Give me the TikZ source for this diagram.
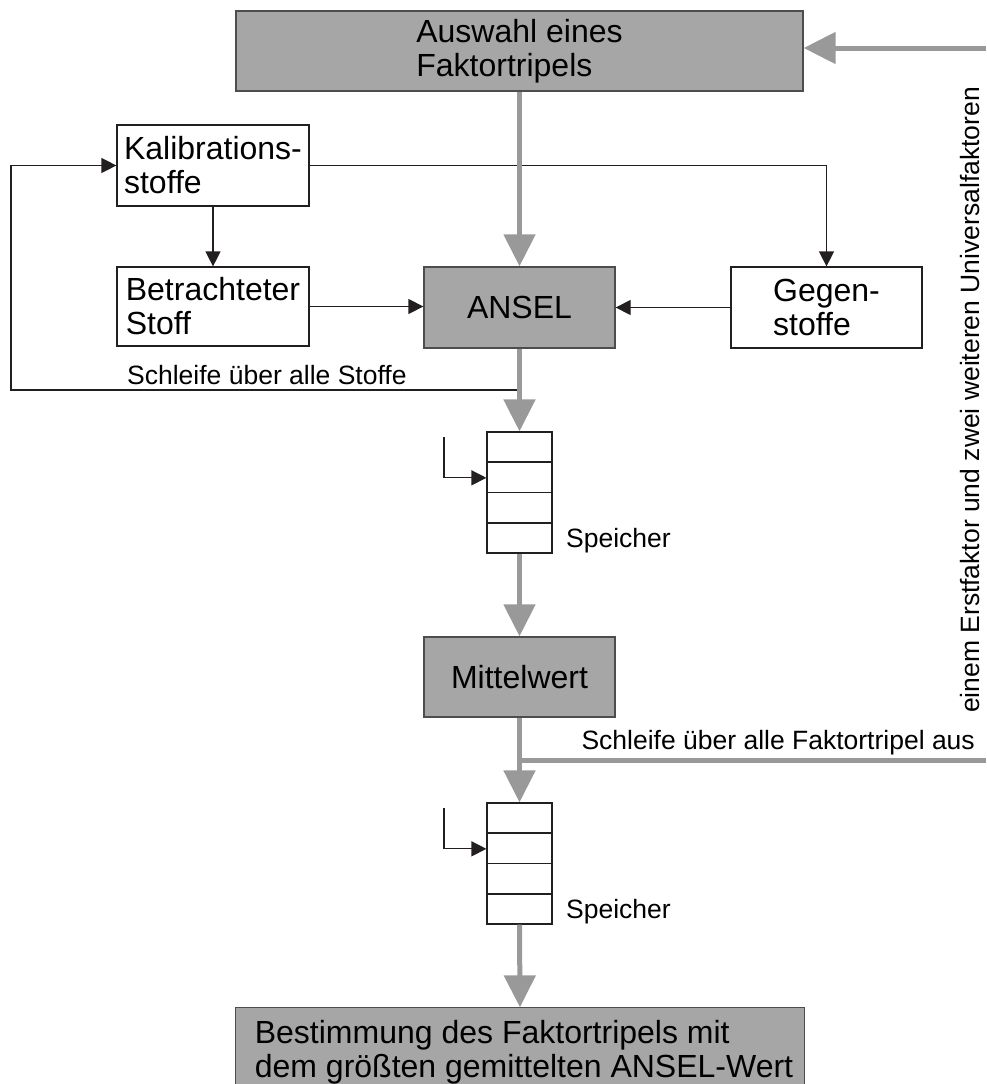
\documentclass[tikz,border=0pt]{standalone}
\usepackage{fontspec}
\setmainfont{Liberation Sans}
\usetikzlibrary{arrows.meta,calc}
\definecolor{boxgray}{HTML}{A6A6A6}
\definecolor{arrowgray}{HTML}{999999}
\definecolor{edgegray}{HTML}{4D4D4D}
\definecolor{inkblack}{HTML}{231F20}
\newcommand\bxfont{\fontsize{32}{34}\selectfont}
\newcommand\lbfont{\fontsize{26.5}{30}\selectfont}
\begin{document}
\begin{tikzpicture}[x=1pt,y=-1pt,
 graybox/.style={draw=edgegray, line width=1.3pt, fill=boxgray, inner sep=0pt, align=left, font=\bxfont},
 whitebox/.style={draw=inkblack, line width=1.2pt, fill=white, inner sep=0pt, align=left, font=\bxfont},
 membox/.style={draw=inkblack, line width=1.2pt, minimum width=65pt, minimum height=121pt, inner sep=0pt},
 flow/.style={draw=arrowgray, line width=5pt, -{Triangle[length=32pt,width=31pt]}},
 flowline/.style={draw=arrowgray, line width=5pt},
 link/.style={draw=inkblack, line width=1.3pt, -{Triangle[length=15pt,width=15pt]}},
 linkline/.style={draw=inkblack, line width=1.2pt},
 lbl/.style={inner sep=0pt, font=\lbfont}]
\useasboundingbox (0,0) rectangle (986,1084);

% boxes
\node[graybox, minimum width=567pt, minimum height=80pt] (top) at (519.5,51) {Auswahl eines\\Faktortripels};
\node[whitebox, minimum width=192pt, minimum height=81pt] (kal) at (213,165.5) {Kalibrations-\\stoffe};
\node[whitebox, minimum width=192pt, minimum height=79pt] (bet) at (213,306.5) {Betrachteter\\Stoff};
\node[graybox, minimum width=191pt, minimum height=81pt] (ansel) at (519.5,307.5) {ANSEL};
\node[whitebox, minimum width=191pt, minimum height=81pt] (geg) at (826.5,307.5) {Gegen-\\stoffe};
\node[membox] (mem1) at (519.5,492.5) {};
\node[graybox, minimum width=191pt, minimum height=80pt] (mittel) at (519.5,677) {Mittelwert};
\node[membox] (mem2) at (519.5,863.5) {};
\node[graybox, draw=none, minimum width=568pt, minimum height=76pt] (best) at (520,1046) {};
\draw[draw=edgegray, line width=1.3pt] (best.south west) -- (best.north west) -- (best.north east) -- (best.south east);
\node[font=\bxfont, align=left, inner sep=0pt] (besttext) at (524,1052) {Bestimmung des Faktortripels mit\\dem größten gemittelten ANSEL-Wert};

% memory cells
\foreach \m in {mem1,mem2}{
  \foreach \f in {0.25,0.5,0.75}{
    \draw[linkline] ($(\m.north west)!\f!(\m.south west)$) -- ($(\m.north east)!\f!(\m.south east)$);
  }
}

% black connectors
\draw[link] (kal.south) -- (bet.north);
\draw[link] (kal.east) -| (geg.north);
\draw[link] (bet.east) -- (bet.east -| ansel.west);
\draw[link] (geg.west) -- (ansel.east);
\coordinate (j1) at (517.5,390);
\coordinate (lc) at (11,390);
\draw[link] (j1) -- (lc) |- (kal.west);
\coordinate (m1s) at (444,437);
\draw[link] (m1s) |- ($(mem1.north west)!0.38!(mem1.south west)$);
\coordinate (m2s) at (444,808);
\draw[link] (m2s) |- ($(mem2.north west)!0.38!(mem2.south west)$);

% gray flows
\draw[flow] (top.south) -- (ansel.north);
\draw[flow] (ansel.south) -- (mem1.north);
\draw[flow] (mem1.south) -- (mittel.north);
\draw[flow] (mittel.south) -- (mem2.north);
\draw[flow] (mem2.south) -- (best.north);
\coordinate (rin) at (986,48);
\draw[flow] (rin) -- (rin -| top.east);
\coordinate (j2) at (519.5,760);
\coordinate (rout) at (986,760);
\draw[flowline] (j2) -- (rout);

% labels
\node[lbl, anchor=base west] (l1) at (127,384) {Schleife über alle Stoffe};
\node[lbl, anchor=base west] (sp1) at (566,547) {Speicher};
\node[lbl, anchor=base west] (sp2) at (566,918) {Speicher};
\node[lbl, anchor=base east] (l2) at (975,749) {Schleife über alle Faktortripel aus};
\node[lbl, rotate=90, anchor=base] (l3) at (979,400) {einem Erstfaktor und zwei weiteren Universalfaktoren};
\end{tikzpicture}
\end{document}
